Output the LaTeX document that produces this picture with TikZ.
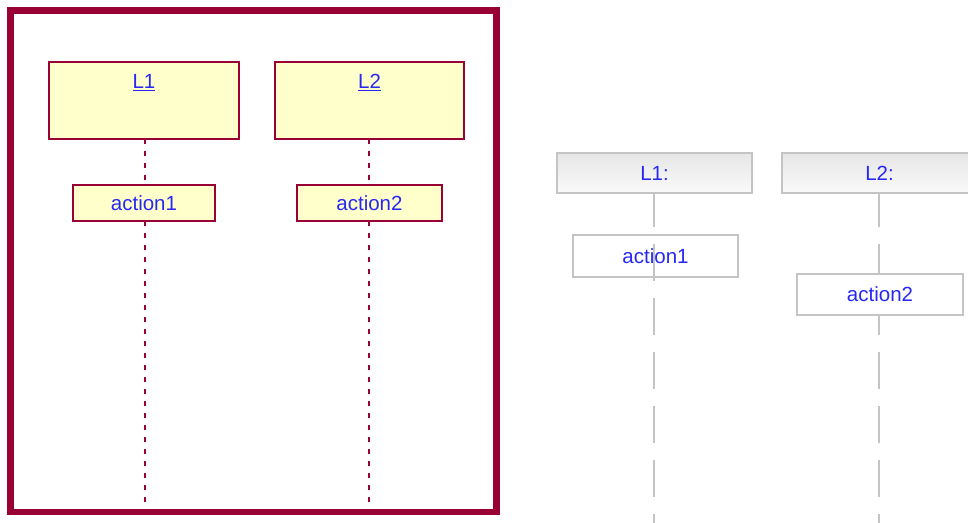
\documentclass[tikz,border=0pt]{standalone}
\usepackage{fontspec}
\setmainfont{Liberation Sans}
\definecolor{frame}{HTML}{990033}
\definecolor{pale}{HTML}{FFFFCC}
\definecolor{ink}{HTML}{2828F5}
\definecolor{rule}{HTML}{C4C4C4}
\tikzset{
  txt/.style={text=ink, font=\fontsize{20.5}{24}\selectfont},
  lbox/.style={draw=frame, line width=1.5pt, fill=pale, inner sep=0pt, outer sep=0pt},
  gbox/.style={draw=rule, line width=1.5pt, fill=white, inner sep=0pt, outer sep=0pt, txt},
  hbox/.style={draw=rule, line width=1.5pt, top color=gray!20, bottom color=gray!4,
    inner sep=0pt, outer sep=0pt, minimum width=195pt, minimum height=40pt, txt},
  dotline/.style={draw=frame, line width=2pt, dash pattern=on 5pt off 7pt},
  greyline/.style={draw=rule, line width=2pt, dash pattern=on 37pt off 17pt, dash phase=3pt},
}
\begin{document}
\begin{tikzpicture}[x=1pt, y=-1pt]
  \clip (0,0) rectangle (968,522);
  \fill[white] (0,0) rectangle (968,522);

  % frame of the left diagram
  \draw[frame, line width=6.5pt] (10.5,10.5) rectangle (496.5,512);

  % left lifeline heads
  \node[lbox, minimum width=190pt, minimum height=77pt,
        label={[txt, inner sep=0pt, anchor=north, yshift=-12pt]north:\underline{L1}}]
        (L1) at (144,100.5) {};
  \node[lbox, minimum width=189pt, minimum height=77pt,
        label={[txt, inner sep=0pt, anchor=north, yshift=-12pt]north:\underline{L2}}]
        (L2) at (369.5,100.5) {};

  % left actions
  \node[lbox, txt, minimum width=142pt, minimum height=36pt] (A1) at (144,203) {action1};
  \node[lbox, txt, minimum width=145pt, minimum height=36pt] (A2) at (369.5,203) {action2};

  \coordinate (E1) at (145,507);
  \coordinate (E2) at (369,507);
  \draw[dotline] (L1.south -| E1) -- (A1.north -| E1);
  \draw[dotline] (A1.south -| E1) -- (E1);
  \draw[dotline] (L2.south -| E2) -- (A2.north -| E2);
  \draw[dotline] (A2.south -| E2) -- (E2);

  % right diagram
  \node[hbox] (R1) at (654.5,173) {L1:};
  \node[hbox] (R2) at (879.5,173) {L2:};
  \node[gbox, minimum width=165pt, minimum height=42pt] (B1) at (655.5,256) {action1};

  \coordinate (F1) at (654,530);
  \coordinate (F2) at (879,530);
  \draw[greyline] (R1.south -| F1) -- (F1);
  \draw[greyline] (R2.south -| F2) -- (F2);

  \node[gbox, minimum width=166pt, minimum height=41pt] (B2) at (880,294.5) {action2};
\end{tikzpicture}
\end{document}
